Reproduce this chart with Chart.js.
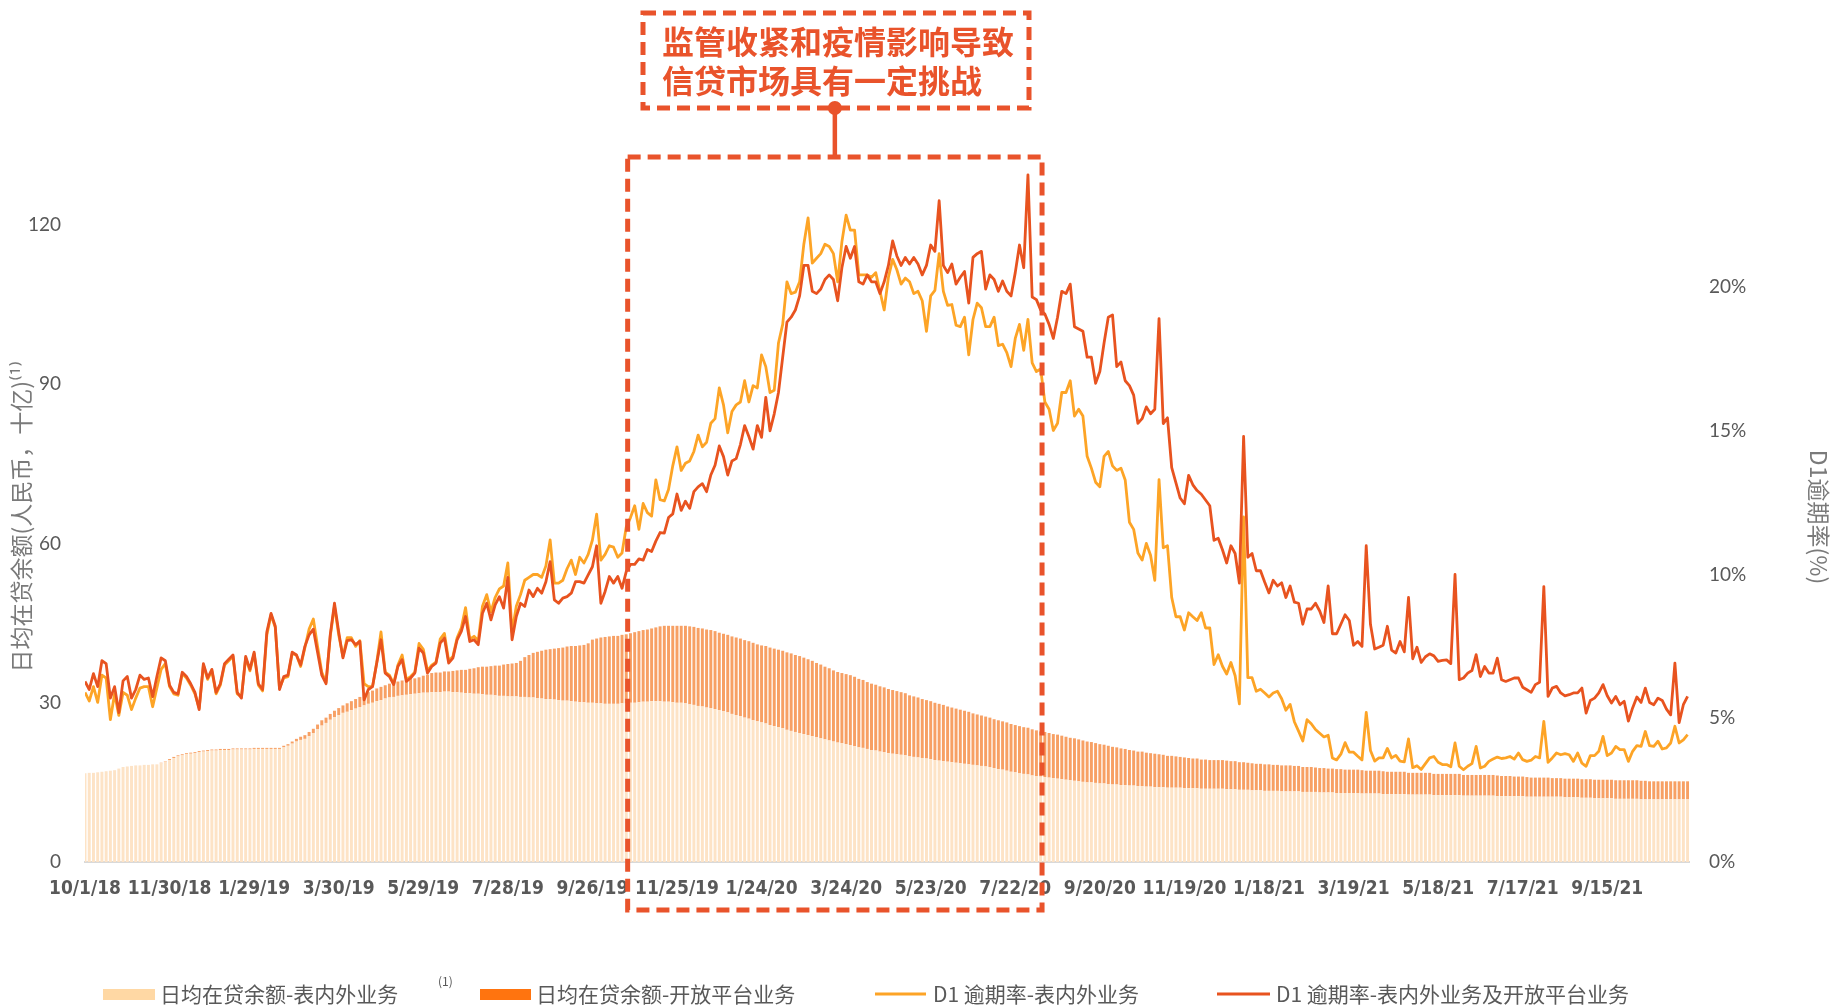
<!DOCTYPE html>
<html>
<head>
<meta charset="utf-8">
<script src="https://cdn.jsdelivr.net/npm/chart.js@4.4.0/dist/chart.umd.min.js"></script>
<style>
  html, body { margin: 0; padding: 0; background: #fff; }
  #wrap { width: 1835px; height: 1006px; }
</style>
</head>
<body>
<div id="wrap"><canvas id="myChart" width="1835" height="1006"></canvas></div>
<script>
// one sample every 3 days, first sample on 10/1/18
const STEP_DAYS = 3;

const xTickLabels = ["10/1/18", "11/30/18", "1/29/19", "3/30/19", "5/29/19", "7/28/19", "9/26/19",
  "11/25/19", "1/24/20", "3/24/20", "5/23/20", "7/22/20", "9/20/20", "11/19/20", "1/18/21",
  "3/19/21", "5/18/21", "7/17/21", "9/15/21"];
const leftTicks = [0, 30, 60, 90, 120];
const rightTicks = [0, 5, 10, 15, 20];

const seriesNames = ["日均在贷余额-表内外业务", "日均在贷余额-开放平台业务",
  "D1 逾期率-表内外业务", "D1 逾期率-表内外业务及开放平台业务"];

// 日均在贷余额-表内外业务 (十亿)
const onBalance = [
  16.7,16.8,16.8,16.9,17.0,17.1,17.2,17.3,17.6,17.9,18.0,18.1,18.2,18.2,18.3,18.3,18.4,18.4,18.6,18.9,
  19.2,19.6,19.9,20.1,20.3,20.4,20.5,20.7,20.8,20.9,21.0,21.0,21.1,21.1,21.1,21.2,21.2,21.2,21.2,21.2,
  21.3,21.3,21.3,21.3,21.3,21.3,21.3,21.6,21.9,22.3,22.7,23.0,23.2,23.7,24.3,25.0,25.7,26.2,26.8,27.3,
  27.7,28.1,28.3,28.6,28.9,29.2,29.5,29.8,30.0,30.3,30.5,30.8,31.0,31.1,31.3,31.4,31.5,31.6,31.7,31.8,
  31.9,31.9,32.0,32.0,32.0,32.1,32.1,32.0,32.0,31.9,31.8,31.8,31.7,31.7,31.6,31.5,31.5,31.4,31.3,31.3,
  31.2,31.2,31.2,31.1,31.1,31.0,31.0,30.9,30.8,30.7,30.7,30.6,30.5,30.4,30.4,30.3,30.2,30.1,30.1,30.0,
  30.0,29.9,29.9,29.8,29.8,29.8,29.8,29.9,29.9,30.0,30.0,30.1,30.2,30.2,30.3,30.3,30.3,30.2,30.2,30.1,
  30.0,30.0,29.9,29.7,29.6,29.4,29.3,29.1,29.0,28.8,28.6,28.4,28.2,27.9,27.7,27.5,27.2,27.0,26.7,26.5,
  26.3,26.1,25.8,25.6,25.4,25.2,24.9,24.7,24.5,24.3,24.1,23.9,23.7,23.5,23.3,23.1,22.9,22.7,22.5,22.4,
  22.2,22.0,21.8,21.6,21.5,21.3,21.1,21.0,20.8,20.7,20.5,20.4,20.3,20.2,20.1,19.9,19.8,19.7,19.6,19.5,
  19.4,19.2,19.1,19.0,18.9,18.8,18.7,18.6,18.5,18.4,18.3,18.2,18.1,18.0,17.9,17.7,17.5,17.4,17.2,17.0,
  16.9,16.7,16.6,16.5,16.3,16.2,16.1,16.0,15.9,15.8,15.7,15.6,15.5,15.4,15.3,15.2,15.1,15.0,15.0,14.9,
  14.8,14.8,14.7,14.6,14.6,14.5,14.5,14.4,14.4,14.3,14.3,14.2,14.2,14.1,14.1,14.1,14.0,14.0,14.0,14.0,
  13.9,13.9,13.9,13.9,13.8,13.8,13.8,13.8,13.8,13.8,13.7,13.7,13.7,13.6,13.6,13.6,13.5,13.5,13.5,13.4,
  13.4,13.4,13.4,13.3,13.3,13.3,13.3,13.3,13.2,13.2,13.2,13.2,13.1,13.1,13.1,13.1,13.0,13.0,13.0,13.0,
  13.0,13.0,12.9,12.9,12.9,12.9,12.9,12.8,12.8,12.8,12.8,12.8,12.8,12.7,12.7,12.7,12.7,12.7,12.7,12.6,
  12.6,12.6,12.6,12.6,12.6,12.6,12.5,12.5,12.5,12.5,12.5,12.5,12.5,12.5,12.4,12.4,12.4,12.4,12.4,12.4,
  12.4,12.3,12.3,12.3,12.3,12.3,12.3,12.3,12.3,12.3,12.2,12.2,12.2,12.2,12.1,12.1,12.1,12.0,12.0,12.0,
  12.0,12.0,11.9,11.9,11.9,11.9,11.9,11.9,11.8,11.8,11.8,11.8,11.8,11.8,11.8,11.8,11.8,11.8,11.8,11.8
];

// 日均在贷余额-开放平台业务 (十亿)
const openPlatform = [
  0,0,0,0,0,0,0,0,0,0,0,0,0,0,0,0,0,0,0.1,0.1,
  0.2,0.2,0.2,0.2,0.2,0.2,0.2,0.2,0.2,0.2,0.2,0.2,0.2,0.2,0.2,0.2,0.2,0.2,0.2,0.2,
  0.2,0.2,0.2,0.2,0.2,0.2,0.2,0.3,0.3,0.4,0.5,0.6,0.7,0.8,0.8,0.9,1.0,1.0,1.1,1.2,
  1.3,1.4,1.6,1.7,1.8,1.9,2.1,2.2,2.3,2.4,2.5,2.5,2.6,2.7,2.7,2.8,2.8,2.9,2.9,3.0,
  3.2,3.4,3.6,3.7,3.7,3.8,3.8,4.0,4.1,4.3,4.4,4.6,4.8,5.0,5.2,5.3,5.4,5.6,5.7,5.9,
  6.1,6.2,6.3,6.8,7.5,8.0,8.4,8.7,9.0,9.3,9.4,9.6,9.8,10.0,10.2,10.4,10.5,10.7,10.8,11.2,
  11.9,12.2,12.4,12.6,12.7,12.8,12.8,12.9,13.0,13.1,13.3,13.4,13.5,13.6,13.7,13.9,14.1,14.3,14.3,14.4,
  14.5,14.5,14.6,14.7,14.7,14.7,14.7,14.7,14.7,14.7,14.6,14.6,14.6,14.6,14.6,14.6,14.6,14.6,14.6,14.5,
  14.5,14.6,14.6,14.6,14.6,14.6,14.6,14.6,14.5,14.5,14.4,14.3,14.2,14.0,13.9,13.7,13.6,13.4,13.3,13.2,
  13.2,13.2,13.1,12.9,12.8,12.6,12.5,12.4,12.3,12.2,12.1,12.0,11.9,11.8,11.7,11.5,11.4,11.3,11.1,11.0,
  10.9,10.8,10.7,10.6,10.4,10.3,10.2,10.1,10.0,9.9,9.7,9.6,9.5,9.4,9.3,9.2,9.2,9.1,9.1,9.0,
  8.9,8.9,8.8,8.8,8.7,8.6,8.5,8.5,8.4,8.3,8.3,8.2,8.1,8.0,8.0,7.9,7.8,7.7,7.6,7.5,
  7.4,7.3,7.2,7.1,7.0,6.9,6.8,6.7,6.6,6.5,6.5,6.4,6.3,6.3,6.2,6.1,6.0,6.0,5.9,5.8,
  5.8,5.7,5.6,5.6,5.5,5.5,5.4,5.4,5.4,5.4,5.4,5.3,5.3,5.2,5.2,5.1,5.1,5.0,5.0,5.0,
  5.0,4.9,4.9,4.9,4.9,4.9,4.8,4.8,4.7,4.7,4.7,4.6,4.6,4.6,4.5,4.5,4.5,4.5,4.4,4.4,
  4.4,4.4,4.4,4.3,4.3,4.3,4.3,4.3,4.2,4.2,4.2,4.2,4.2,4.1,4.1,4.1,4.1,4.1,4.1,4.0,
  4.0,4.0,4.0,4.0,4.0,4.0,3.9,3.9,3.9,3.9,3.9,3.9,3.9,3.9,3.9,3.8,3.8,3.8,3.7,3.7,
  3.7,3.7,3.6,3.6,3.6,3.6,3.6,3.5,3.5,3.5,3.5,3.5,3.5,3.5,3.5,3.5,3.5,3.5,3.5,3.5,
  3.5,3.5,3.5,3.5,3.5,3.5,3.5,3.5,3.5,3.5,3.4,3.4,3.4,3.4,3.4,3.4,3.4,3.4,3.4,3.4
];

// D1 逾期率-表内外业务 (%)
const d1OnBalance = [
  5.9,5.6,6.1,5.55,6.5,6.4,4.95,5.85,5.1,5.9,5.8,5.3,5.7,6.05,6.1,6.1,5.4,6.05,6.7,6.9,
  6.1,5.85,5.8,6.55,6.4,6.15,5.85,5.35,6.85,6.35,6.65,5.85,6.15,6.85,7.0,7.15,5.85,5.75,7.1,6.65,
  7.25,6.15,5.95,7.9,8.6,8.15,6.05,6.4,6.45,7.25,7.2,6.8,7.45,8.1,8.45,7.5,6.6,6.25,7.85,8.9,
  7.9,7.15,7.8,7.8,7.5,7.7,6.2,6.1,6.1,6.95,8.0,6.6,6.5,6.2,6.85,7.2,6.35,6.45,6.6,7.6,
  7.4,6.65,6.85,6.95,7.75,7.95,7.0,7.15,7.8,8.15,8.85,7.75,7.85,7.7,8.9,9.3,8.7,9.2,9.5,9.6,
  10.4,8.0,8.9,9.3,9.8,9.9,10.0,10.0,9.9,10.3,11.2,9.7,9.7,9.8,10.2,10.5,10.0,10.6,10.4,10.7,
  11.2,12.1,10.5,10.7,11.0,10.95,10.6,10.75,11.65,11.98,12.39,11.57,12.47,12.15,12.03,13.29,12.6,12.56,12.96,13.78,
  14.44,13.62,13.87,13.95,14.28,14.85,14.44,14.6,15.26,15.42,16.49,15.9,14.93,15.67,15.9,16.0,16.74,16.0,16.57,16.49,
  17.64,17.23,16.33,16.41,18.05,18.7,20.18,19.77,19.82,20.18,21.49,22.4,20.83,21.0,21.16,21.49,21.41,21.16,20.18,21.57,
  22.5,21.98,21.98,20.42,20.42,20.42,20.34,20.5,19.85,19.2,20.34,20.96,20.6,20.1,20.31,20.18,19.77,19.85,19.52,18.46,
  19.69,19.88,21.16,19.85,19.36,19.39,18.67,18.62,18.95,17.64,18.87,19.44,19.28,18.62,18.62,18.95,17.96,18.01,17.72,17.23,
  18.21,18.7,17.8,18.87,17.36,17.06,17.15,16.0,15.75,15.01,15.26,16.33,16.33,16.74,15.51,15.75,15.51,14.11,13.7,13.21,
  13.05,14.11,14.28,13.78,13.62,13.7,13.29,11.82,11.57,10.75,10.5,11.08,10.67,9.8,13.3,10.93,11.0,9.2,8.53,8.53,
  8.07,8.67,8.53,8.4,8.67,8.14,8.14,6.87,7.21,6.81,6.54,6.94,6.48,5.5,12.0,6.41,6.41,5.94,6.01,5.88,
  5.74,5.88,5.94,5.68,5.28,5.48,4.88,4.55,4.21,4.95,4.81,4.61,4.48,4.35,4.41,3.62,3.55,3.75,4.15,3.82,
  3.82,3.68,3.55,5.2,3.88,3.51,3.62,3.62,3.95,3.62,3.71,3.51,3.48,4.28,3.28,3.35,3.22,3.42,3.62,3.67,
  3.47,3.39,3.39,3.31,4.14,3.33,3.21,3.33,3.42,4.02,3.27,3.33,3.5,3.58,3.65,3.6,3.62,3.67,3.58,3.79,
  3.56,3.5,3.54,3.67,3.62,4.89,3.47,3.62,3.79,3.73,3.77,3.73,3.5,3.79,3.44,3.33,3.7,3.7,3.85,4.37,
  3.7,3.79,4.02,3.91,3.91,3.5,3.85,4.05,4.02,4.54,4.05,4.02,4.2,3.93,3.97,4.14,4.72,4.14,4.25,4.43
];

// D1 逾期率-表内外业务及开放平台业务 (%)
const d1Total = [
  6.28,6.0,6.55,6.1,7.0,6.9,5.7,6.1,5.2,6.3,6.45,5.7,6.0,6.5,6.35,6.4,5.75,6.45,7.1,7.0,
  6.15,5.9,5.85,6.6,6.45,6.2,5.9,5.3,6.9,6.4,6.7,5.9,6.2,6.9,7.05,7.2,5.9,5.7,7.15,6.7,
  7.3,6.2,6.0,8.0,8.65,8.2,6.0,6.45,6.5,7.3,7.2,6.85,7.5,7.9,8.1,7.3,6.5,6.2,7.9,9.0,
  8.0,7.1,7.7,7.73,7.56,7.67,5.64,6.0,6.1,6.92,7.73,6.57,6.45,6.17,6.8,7.04,6.28,6.4,6.57,7.44,
  7.27,6.57,6.8,6.92,7.61,7.79,6.92,7.09,7.73,8.02,8.54,7.67,7.73,7.56,8.65,9.0,8.42,8.94,9.23,8.83,
  9.9,7.73,8.54,9.0,8.89,9.46,9.23,9.52,9.35,9.75,10.45,9.12,9.0,9.18,9.23,9.35,9.75,9.75,9.7,9.99,
  10.27,11.0,9.0,9.41,9.93,9.7,9.93,9.52,10.1,10.35,10.35,10.54,10.5,10.87,10.8,11.16,11.46,11.44,11.98,12.11,
  12.8,12.23,12.55,12.3,12.88,13.05,13.16,12.88,13.46,13.8,14.47,14.1,13.46,13.95,14.03,14.52,15.18,14.8,14.36,15.18,
  14.77,16.16,15.0,15.59,16.33,17.56,18.78,18.95,19.2,19.69,20.75,20.75,19.85,19.77,19.93,20.26,20.42,20.26,19.52,20.67,
  21.41,21.0,21.41,20.18,20.1,20.42,20.18,20.18,19.77,20.18,20.75,21.6,21.08,20.75,21.03,20.8,21.03,20.8,20.42,20.75,
  21.46,21.24,23.0,20.75,20.5,20.8,20.1,20.34,20.54,19.44,21.03,21.16,21.24,19.93,20.42,20.26,19.85,20.21,19.85,19.69,
  20.5,21.46,20.67,23.9,19.65,19.56,19.2,19.06,18.7,18.21,18.95,19.85,19.77,20.1,18.62,18.54,18.46,17.56,17.56,16.65,
  17.06,18.05,18.95,19.03,17.23,17.39,16.74,16.57,16.24,15.26,15.42,15.83,15.59,15.75,18.9,15.25,15.45,13.72,13.19,12.66,
  12.46,13.45,13.12,12.92,12.79,12.59,12.39,11.19,11.26,10.86,10.4,11.0,10.73,9.7,14.8,10.6,10.73,10.13,10.13,9.73,
  9.36,9.8,9.6,9.71,9.2,9.6,9.04,9.0,8.27,8.8,8.8,9.0,8.73,8.33,9.6,7.94,7.94,8.27,8.6,8.4,
  7.54,7.67,7.5,11.0,8.27,7.41,7.47,7.54,8.2,7.37,7.27,7.67,7.31,9.2,7.07,7.47,6.94,7.14,7.24,7.17,
  6.98,7.01,7.03,6.9,10.0,6.34,6.4,6.57,6.66,7.21,6.45,6.8,6.57,6.57,7.09,6.34,6.28,6.34,6.4,6.4,
  6.08,5.99,5.9,6.17,6.25,9.58,5.76,6.05,6.11,5.88,5.78,5.82,5.88,5.88,6.05,5.18,5.62,5.7,5.88,6.17,
  5.78,5.53,5.76,5.47,5.59,4.9,5.36,5.74,5.55,6.05,5.55,5.47,5.7,5.62,5.32,5.12,6.92,4.85,5.47,5.76
];

// highlighted window (days after 10/1/18) and its note
const focusStartDay = 385;
const focusEndDay = 679;
const noteLines = ["监管收紧和疫情影响导致", "信贷市场具有一定挑战"];

const ACCENT = "#E9532B";
const TEXT_GRAY = "#595959";
const TITLE_GRAY = "#7A7A7A";
const CJK = "'Noto Sans CJK SC', sans-serif";

const toPoints = (arr) => arr.map((v, i) => ({ x: i * STEP_DAYS, y: v }));

const legendItems = [
  { kind: "box", color: "#FFD8A4", x: 103, w: 52, textX: 160, text: seriesNames[0] },
  { kind: "box", color: "#FF740F", x: 480, w: 51, textX: 536, text: seriesNames[1] },
  { kind: "line", color: "#FDA426", x: 875, w: 51, textX: 933, text: seriesNames[2] },
  { kind: "line", color: "#E8531F", x: 1217, w: 53, textX: 1276, text: seriesNames[3] },
];

const legendPlugin = {
  id: "customLegend",
  afterDraw(chart) {
    const ctx = chart.ctx;
    const y = 994;
    ctx.save();
    ctx.font = "21px " + CJK;
    ctx.textBaseline = "middle";
    legendItems.forEach((it) => {
      ctx.fillStyle = it.color;
      if (it.kind === "box") {
        ctx.fillRect(it.x, y - 5, it.w, 11);
      } else {
        ctx.fillRect(it.x, y - 1.5, it.w, 3);
      }
      ctx.fillStyle = TEXT_GRAY;
      ctx.fillText(it.text, it.textX, y);
    });
    ctx.font = "12px " + CJK;
    ctx.fillText("(1)", 438, 981);
    ctx.restore();
  },
};

const notePlugin = {
  id: "focusNote",
  afterDraw(chart) {
    const { ctx, chartArea, scales } = chart;
    const left = scales.x.getPixelForValue(focusStartDay);
    const right = scales.x.getPixelForValue(focusEndDay);
    const top = chartArea.top - 15;
    const bottom = chartArea.bottom + 48;
    const cx = (left + right) / 2;
    ctx.save();
    ctx.strokeStyle = ACCENT;
    ctx.fillStyle = ACCENT;
    ctx.lineWidth = 5;
    ctx.setLineDash([13, 7]);
    ctx.strokeRect(left, top, right - left, bottom - top);
    ctx.strokeRect(643, 13, 386, 95);
    ctx.setLineDash([]);
    ctx.lineWidth = 4.5;
    ctx.beginPath();
    ctx.moveTo(cx, 108);
    ctx.lineTo(cx, top);
    ctx.stroke();
    ctx.beginPath();
    ctx.arc(cx, 108, 7, 0, Math.PI * 2);
    ctx.fill();
    ctx.font = "bold 32px " + CJK;
    ctx.textBaseline = "middle";
    ctx.fillText(noteLines[0], 662, 42);
    ctx.fillText(noteLines[1], 662, 81);
    ctx.restore();
  },
};

const ctx = document.getElementById("myChart");

new Chart(ctx, {
  type: "bar",
  data: {
    datasets: [
      {
        type: "bar",
        label: seriesNames[0],
        data: toPoints(onBalance),
        backgroundColor: "#FDE3C6",
        yAxisID: "y",
        order: 5,
        barPercentage: 1,
        categoryPercentage: 0.7,
      },
      {
        type: "bar",
        label: seriesNames[1],
        data: toPoints(openPlatform),
        backgroundColor: "#F7A064",
        yAxisID: "y",
        order: 5,
        barPercentage: 1,
        categoryPercentage: 0.7,
      },
      {
        type: "line",
        label: seriesNames[2],
        data: toPoints(d1OnBalance),
        borderColor: "#FDA426",
        borderWidth: 2.8,
        borderJoinStyle: "round",
        pointRadius: 0,
        tension: 0,
        yAxisID: "y1",
        order: 1,
      },
      {
        type: "line",
        label: seriesNames[3],
        data: toPoints(d1Total),
        borderColor: "#E8531F",
        borderWidth: 2.8,
        borderJoinStyle: "round",
        pointRadius: 0,
        tension: 0,
        yAxisID: "y1",
        order: 0,
      },
    ],
  },
  options: {
    responsive: false,
    animation: false,
    events: [],
    layout: { padding: { top: 172, bottom: 94, left: 0, right: 0 } },
    plugins: {
      legend: { display: false },
      tooltip: { enabled: false },
    },
    scales: {
      x: {
        type: "linear",
        min: 0,
        max: 1138,
        stacked: true,
        offset: false,
        grid: { display: false, drawTicks: false, offset: false },
        border: { display: true, color: "#D9D9D9", width: 2 },
        afterBuildTicks: (s) => {
          s.ticks = xTickLabels.map((_, i) => ({ value: i * 60 }));
        },
        afterFit: (s) => {
          s.height = 50;
        },
        ticks: {
          autoSkip: false,
          maxRotation: 0,
          padding: 16,
          color: TEXT_GRAY,
          font: { family: "'DejaVu Sans Condensed', 'Liberation Sans Narrow', sans-serif", size: 19, weight: "bold" },
          callback: (value, index) => xTickLabels[index],
        },
      },
      y: {
        position: "left",
        min: 0,
        max: 130,
        stacked: true,
        grid: { display: false, drawTicks: false },
        border: { display: false },
        afterBuildTicks: (s) => {
          s.ticks = leftTicks.map((v) => ({ value: v }));
        },
        afterFit: (s) => {
          s.width = 85;
        },
        ticks: { padding: 24, color: TEXT_GRAY, font: { family: "Lato", size: 19 } },
        title: {
          display: true,
          text: "日均在贷余额(人民币，十亿)⁽¹⁾",
          color: TITLE_GRAY,
          font: { family: CJK, size: 23 },
          padding: { top: 7, bottom: 0 },
        },
      },
      y1: {
        position: "right",
        min: 0,
        max: 24,
        grid: { display: false, drawTicks: false },
        border: { display: false },
        afterBuildTicks: (s) => {
          s.ticks = rightTicks.map((v) => ({ value: v }));
        },
        afterFit: (s) => {
          s.width = 146;
        },
        ticks: {
          padding: 20,
          color: TEXT_GRAY,
          font: { family: "Lato", size: 19 },
          callback: (value) => value + "%",
        },
        title: {
          display: true,
          text: "D1逾期率(%)",
          color: TITLE_GRAY,
          font: { family: CJK, size: 23 },
          padding: { top: 2, bottom: 0 },
        },
      },
    },
  },
  plugins: [legendPlugin, notePlugin],
});
</script>
</body>
</html>
